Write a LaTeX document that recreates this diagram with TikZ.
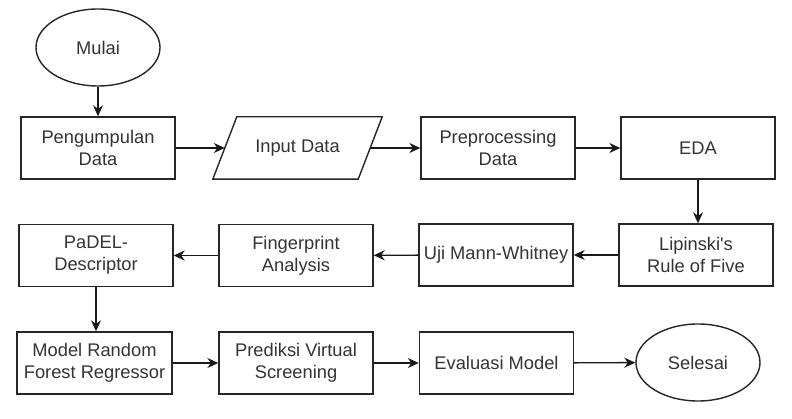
\documentclass[tikz,border=0pt]{standalone}
\usepackage{fontspec}
\setmainfont{Liberation Sans}[Ligatures=TeXOff]
\usetikzlibrary{shapes.geometric,arrows.meta}
\begin{document}
\begin{tikzpicture}[x=1pt,y=-1pt,
  every node/.style={font=\fontsize{18.3}{22}\selectfont, text=black!80, align=center, inner sep=0pt},
  procbox/.style={draw=black!85, line width=1.4pt, minimum width=154pt, minimum height=62pt},
  termin/.style={draw=black!85, line width=1.4pt, ellipse, minimum width=124pt, minimum height=77pt},
  flow/.style={draw=black!90, line width=1.4pt, -{Stealth[length=11pt,width=10pt]}}
]
\useasboundingbox (0,0) rectangle (792,419);
\node[termin] (mul) at (98,47.5) {Mulai};
\node[procbox] (pg) at (98,148) {Pengumpulan\\Data};
\node[minimum width=145pt, minimum height=62pt] (in) at (297.5,148) {Input Data};
\draw[black!85, line width=1.4pt] ([xshift=-12pt]in.south west) -- ([xshift=12pt]in.north west) -- ([xshift=12pt]in.north east) -- ([xshift=-12pt]in.south east) -- cycle;
\node[procbox] (pp) at (498,148) {Preprocessing\\Data};
\node[procbox] (eda) at (698,148) {EDA};
\node[procbox] (lip) at (696,255) {Lipinski's\\Rule of Five};
\node[procbox] (uji) at (496,255) {Uji Mann-Whitney};
\node[procbox] (fp) at (296,255.5) {Fingerprint\\Analysis};
\node[procbox] (pad) at (96,255.5) {PaDEL-\\Descriptor};
\node[procbox, minimum width=155pt] (mod) at (94.5,363) {Model Random\\Forest Regressor};
\node[procbox] (pred) at (296,363) {Prediksi Virtual\\Screening};
\node[procbox] (eva) at (496.5,363) {Evaluasi Model};
\node[termin] (sel) at (698,362.5) {Selesai};

\draw[flow] (mul) -- (pg);
\draw[flow] (pg) -- (in.west);
\draw[flow] (in.east) -- (pp);
\draw[flow] (pp) -- (eda);
\draw[flow] (eda.south) -- (eda.south |- lip.north);
\draw[flow] (lip) -- (uji);
\draw[flow] (uji) -- (fp);
\draw[flow] (fp) -- (pad);
\draw[flow] (pad.south) -- (pad.south |- mod.north);
\draw[flow] (mod) -- (pred);
\draw[flow] (pred) -- (eva);
\draw[flow] (eva) -- (sel);
\end{tikzpicture}
\end{document}
